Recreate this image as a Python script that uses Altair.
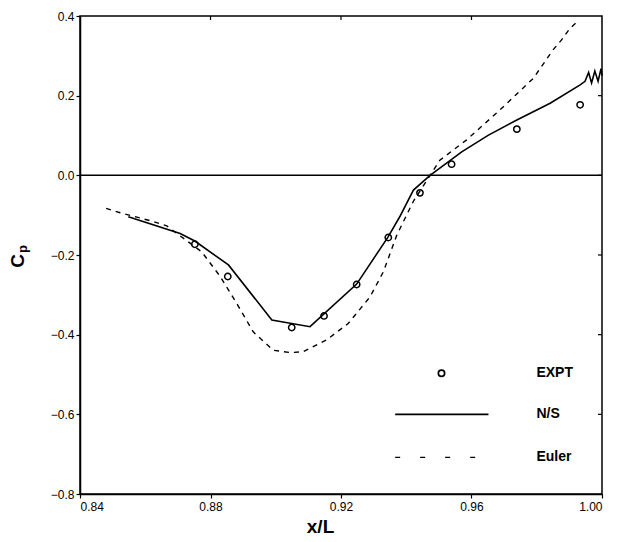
import altair as alt
import pandas as pd

# N/S (Navier-Stokes) solid line
ns_x = [0.8548, 0.8707, 0.8752, 0.8855, 0.8988, 0.9105, 0.9248, 0.9344, 0.9380, 0.9422,
        0.9473, 0.9570, 0.9652, 0.9739, 0.9841, 0.9933, 0.9948, 0.9959, 0.9968, 0.9978,
        0.9988, 0.9997, 1.0000]
ns_y = [-0.104, -0.146, -0.165, -0.225, -0.363, -0.380, -0.273, -0.155, -0.104, -0.037,
        0.000, 0.059, 0.101, 0.139, 0.181, 0.227, 0.236, 0.258, 0.232, 0.262,
        0.236, 0.268, 0.250]

# Euler dashed line
eu_x = [0.8480, 0.8523, 0.8625, 0.8666, 0.8773, 0.8829, 0.8880, 0.8931, 0.8992, 0.9044,
        0.9084, 0.9156, 0.9222, 0.9289, 0.9330, 0.9371, 0.9422, 0.9473, 0.9503, 0.9585,
        0.9687, 0.9790, 0.9850, 0.9876, 0.9902, 0.9930]
eu_y = [-0.083, -0.094, -0.116, -0.127, -0.192, -0.253, -0.321, -0.393, -0.439, -0.445,
        -0.443, -0.413, -0.372, -0.305, -0.242, -0.150, -0.065, 0.000, 0.038, 0.089,
        0.164, 0.244, 0.315, 0.340, 0.369, 0.390]

# Experimental points
ex_x = [0.8752, 0.8853, 0.9049, 0.9148, 0.9248, 0.9345, 0.9442, 0.9539, 0.9739, 0.9933]
ex_y = [-0.173, -0.254, -0.382, -0.353, -0.274, -0.156, -0.044, 0.028, 0.116, 0.177]

x_ticks = [0.84, 0.88, 0.92, 0.96, 1.00]
y_ticks = [-0.8, -0.6, -0.4, -0.2, 0.0, 0.2, 0.4]

# legend entries (drawn inside the plot)
leg_labels = ["EXPT", "N/S", "Euler"]
leg_y = [-0.497, -0.600, -0.708]
leg_text_x = 0.9799
leg_mark_x = 0.9508
leg_line_x = [0.9366, 0.9652]
leg_dash_x = [0.9366, 0.9626]

ns = pd.DataFrame({"x": ns_x, "y": ns_y})
eu = pd.DataFrame({"x": eu_x, "y": eu_y})
ex = pd.DataFrame({"x": ex_x, "y": ex_y})

xs = alt.Scale(domain=[0.84, 1.00], nice=False, zero=False)
ys = alt.Scale(domain=[-0.8, 0.4], nice=False, zero=False)

lab_font = "Liberation Sans"

X = alt.X("x:Q", scale=xs, axis=alt.Axis(
    values=x_ticks, format=".2f", title="x/L", grid=False,
    domainColor="black", domainWidth=1.5, tickColor="black", tickWidth=1.2,
    tickSize=4, labelPadding=3, labelFont=lab_font, labelFontSize=12,
    labelColor="black", titleFont=lab_font, titleFontSize=19,
    titleFontWeight="bold", titleColor="black", titlePadding=5, titleX=240))
Y = alt.Y("y:Q", scale=ys, axis=alt.Axis(
    values=y_ticks, format=".1f", title=None, grid=False,
    domainColor="black", domainWidth=1.5, tickColor="black", tickWidth=1.2,
    tickSize=4, labelPadding=2, labelFont=lab_font, labelFontSize=12,
    labelColor="black"))

base_ns = alt.Chart(ns).mark_line(color="black", strokeWidth=1.6).encode(x=X, y=Y)
base_eu = alt.Chart(eu).mark_line(color="black", strokeWidth=1.4,
                                  strokeDash=[5, 5]).encode(x="x:Q", y="y:Q")
pts = alt.Chart(ex).mark_point(shape="circle", filled=False, size=40,
                               strokeWidth=1.5, color="black", opacity=1).encode(x="x:Q", y="y:Q")

zero = alt.Chart(pd.DataFrame({"y": [0.0]})).mark_rule(
    color="black", strokeWidth=1.5).encode(y="y:Q")

# inward ticks on top and right
top_ticks = alt.Chart(pd.DataFrame({"x": x_ticks[1:-1]})).mark_rule(
    color="black", strokeWidth=1.2).encode(x="x:Q", y=alt.value(0), y2=alt.value(4))
right_ticks = alt.Chart(pd.DataFrame({"y": y_ticks[1:-1]})).mark_rule(
    color="black", strokeWidth=1.2).encode(y="y:Q", x=alt.value(518), x2=alt.value(522))

# legend
leg_pt = alt.Chart(pd.DataFrame({"x": [leg_mark_x], "y": [leg_y[0]]})).mark_point(
    shape="circle", filled=False, size=40, strokeWidth=1.7, color="black", opacity=1
).encode(x="x:Q", y="y:Q")
leg_ns = alt.Chart(pd.DataFrame({"x": leg_line_x, "y": [leg_y[1]] * 2})).mark_line(
    color="black", strokeWidth=1.6).encode(x="x:Q", y="y:Q")
leg_eu = alt.Chart(pd.DataFrame({"x": leg_dash_x, "y": [leg_y[2]] * 2})).mark_line(
    color="black", strokeWidth=1.4, strokeDash=[5, 20]).encode(x="x:Q", y="y:Q")
leg_txt = alt.Chart(pd.DataFrame({"x": [leg_text_x] * 3, "y": leg_y, "t": leg_labels})).mark_text(
    align="left", baseline="middle", font=lab_font, fontSize=14, fontWeight="bold",
    color="black").encode(x="x:Q", y="y:Q", text="t:N")

# y-axis title C_p
c_txt = alt.Chart(pd.DataFrame({"t": ["C"]})).mark_text(
    angle=270, align="center", baseline="middle", font=lab_font, fontSize=19,
    fontWeight="bold", color="black").encode(x=alt.value(-62), y=alt.value(245), text="t:N")
p_txt = alt.Chart(pd.DataFrame({"t": ["p"]})).mark_text(
    angle=270, align="center", baseline="middle", font=lab_font, fontSize=13,
    fontWeight="bold", color="black").encode(x=alt.value(-57), y=alt.value(233), text="t:N")

chart = alt.layer(
    base_ns, zero, base_eu, pts, top_ticks, right_ticks,
    leg_pt, leg_ns, leg_eu, leg_txt, c_txt, p_txt
).properties(
    width=522, height=478,
    autosize=alt.AutoSizeParams(type="none"),
    padding={"left": 72, "top": 8, "right": 15, "bottom": 46},
).configure_view(stroke="black", strokeWidth=1.5)

chart.save("out.html", embed_options={"renderer": "svg", "actions": False})
